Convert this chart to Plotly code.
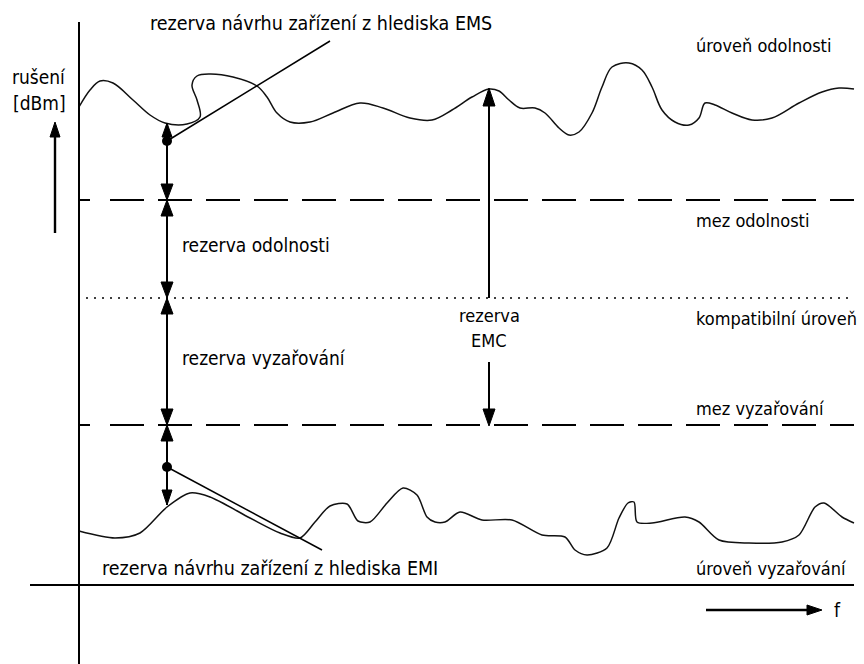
import plotly.graph_objects as go

W, H = 864, 664

# --- curve: úroveň odolnosti (immunity level) ---
imm_x = [79, 90, 100, 113, 133, 150, 165, 187, 200, 197, 192, 197, 210, 233, 257, 267, 277, 290,
         310, 333, 360, 383, 410, 432, 452, 472, 489, 499, 509, 520, 535, 545, 559, 569, 579, 592,
         602, 612, 629, 642, 652, 662, 675, 689, 699, 705, 715, 732, 752, 772, 799, 822, 839, 854]
imm_y = [107, 90, 81, 83, 100, 115, 123, 124, 117, 100, 85, 76, 74, 77, 86, 97, 113, 122,
         122, 113, 103, 108, 118, 120, 110, 97, 89, 91, 100, 108, 108, 113, 128, 135, 132, 113,
         87, 67, 63, 70, 87, 110, 122, 125, 118, 103, 105, 113, 120, 118, 103, 92, 88, 89]

# --- curve: úroveň vyzařování (emission level) ---
emi_x = [79, 115, 140, 167, 190, 210, 250, 280, 300, 315, 330, 347, 358, 370, 387, 403, 417, 427,
         435, 445, 460, 482, 512, 542, 565, 575, 587, 607, 619, 628, 634, 637, 652, 685, 699, 719,
         749, 782, 799, 815, 824, 842, 854]
emi_y = [531, 538, 533, 507, 493, 497, 518, 533, 538, 522, 506, 504, 521, 522, 503, 488, 495, 517,
         522, 522, 512, 520, 520, 535, 537, 550, 555, 548, 518, 503, 502, 522, 523, 517, 522, 540,
         543, 542, 535, 507, 503, 517, 523]

# --- horizontal levels ---
x_left, x_right = 79, 854
limit_imm_y = 200       # mez odolnosti
compat_y = 298          # kompatibilní úroveň
limit_emi_y = 425       # mez vyzařování
dotted_start = 86

# --- axes ---
yaxis_line_x = [79, 79]
yaxis_line_y = [22, 664]
xaxis_line_x = [30, 854]
xaxis_line_y = [585, 585]

# --- dimension line and markers ---
dim_x = 167
dim_top, dim_bottom = 123, 505
dots_x = [167, 167]
dots_y = [141, 467]
leader_ems_x = [167, 330]
leader_ems_y = [141, 41]
leader_emi_x = [167, 322]
leader_emi_y = [467, 550]

emc_x = 489
emc_up_y = [95, 298]
emc_down_y = [362, 418]

left_arrow_x = [55, 55]
left_arrow_y = [233, 130]
f_arrow_x = [706, 815]
f_arrow_y = [610, 610]

# arrow heads: (x tip, y tip, direction, length, half-width)
heads = [
    (167, 123, "up", 14, 5),
    (167, 200, "down", 16, 6), (167, 200, "up", 16, 6),
    (167, 298, "down", 16, 6), (167, 298, "up", 16, 6),
    (167, 425, "down", 16, 6), (167, 425, "up", 16, 6),
    (167, 505, "down", 15, 5),
    (489, 88, "up", 18, 6),
    (489, 426, "down", 17, 6),
    (55, 122, "up", 15, 5),
    (822, 610, "right", 15, 5),
]

# texts: (text, x, y, xanchor, size)
labels = [
    ("rezerva návrhu zařízení z hlediska EMS", 148, 23, "left", 19.5),
    ("úroveň odolnosti", 694, 45, "left", 18),
    ("rušení", 39, 77, "center", 19),
    ("[dBm]", 39, 103, "center", 19),
    ("rezerva odolnosti", 180, 245, "left", 19),
    ("mez odolnosti", 694, 220, "left", 18),
    ("kompatibilní úroveň", 694, 318, "left", 18),
    ("rezerva", 489, 315, "center", 18),
    ("EMC", 489, 340, "center", 18),
    ("rezerva vyzařování", 180, 358, "left", 19),
    ("mez vyzařování", 694, 408, "left", 18),
    ("rezerva návrhu zařízení z hlediska EMI", 100, 568, "left", 19.5),
    ("úroveň vyzařování", 694, 568, "left", 18),
    ("f", 837, 610, "center", 19),
]

INK = "#000000"
FONT = "DejaVu Sans Condensed, Liberation Sans Narrow, Arial Narrow, DejaVu Sans, sans-serif"

fig = go.Figure()


def line(xs, ys, width=1.6, dash="solid", shape="linear", smoothing=1.0, color=INK):
    fig.add_trace(go.Scatter(x=xs, y=ys, mode="lines",
                             line=dict(color=color, width=width, dash=dash, shape=shape,
                                       smoothing=smoothing),
                             hoverinfo="skip", showlegend=False))


# curves
line(imm_x, imm_y, width=1.5, shape="spline", smoothing=1.0, color="#111111")
line(emi_x, emi_y, width=1.5, shape="spline", smoothing=0.8, color="#111111")

# level lines
dash_pattern = "11px,20px," + ",".join(["34px,14px"] * 17)
line([x_left, x_right], [limit_imm_y, limit_imm_y], width=1.8, dash=dash_pattern)
line([x_left, x_right], [limit_emi_y, limit_emi_y], width=1.8, dash=dash_pattern)
line([dotted_start, x_right], [compat_y, compat_y], width=1.6, dash="2px,6px")

# axes
line(yaxis_line_x, yaxis_line_y, width=2)
line(xaxis_line_x, xaxis_line_y, width=2)

# dimension line, EMC arrow, leaders
line([dim_x, dim_x], [dim_top, dim_bottom], width=2)
line([emc_x, emc_x], emc_up_y, width=2)
line([emc_x, emc_x], emc_down_y, width=2)
line(leader_ems_x, leader_ems_y, width=1.5)
line(leader_emi_x, leader_emi_y, width=1.5)
line(left_arrow_x, left_arrow_y, width=2.4)
line(f_arrow_x, f_arrow_y, width=2.4)

fig.add_trace(go.Scatter(x=dots_x, y=dots_y, mode="markers",
                         marker=dict(color=INK, size=10, symbol="circle"),
                         hoverinfo="skip", showlegend=False))

# arrow heads as filled triangles
for hx, hy, d, L, w in heads:
    if d == "up":
        px, py = [hx, hx - w, hx + w, hx], [hy, hy + L, hy + L, hy]
    elif d == "down":
        px, py = [hx, hx - w, hx + w, hx], [hy, hy - L, hy - L, hy]
    else:
        px, py = [hx, hx - L, hx - L, hx], [hy, hy - w, hy + w, hy]
    fig.add_trace(go.Scatter(x=px, y=py, mode="lines", fill="toself", fillcolor=INK,
                             line=dict(color=INK, width=1), hoverinfo="skip",
                             showlegend=False))

for txt, tx, ty, anchor, fs in labels:
    fig.add_annotation(x=tx, y=ty, xref="x", yref="y", text=txt, showarrow=False,
                       xanchor=anchor, yanchor="middle",
                       font=dict(family=FONT, size=fs, color=INK))

fig.update_layout(
    width=W, height=H,
    margin=dict(l=0, r=0, t=0, b=0),
    paper_bgcolor="white", plot_bgcolor="white",
    xaxis=dict(range=[0, W], visible=False, fixedrange=True),
    yaxis=dict(range=[H, 0], visible=False, fixedrange=True),
    showlegend=False,
)

fig.write_html("out.html", config={"displayModeBar": False},
               post_script="document.body.style.margin='0';document.body.style.overflow='hidden';")
